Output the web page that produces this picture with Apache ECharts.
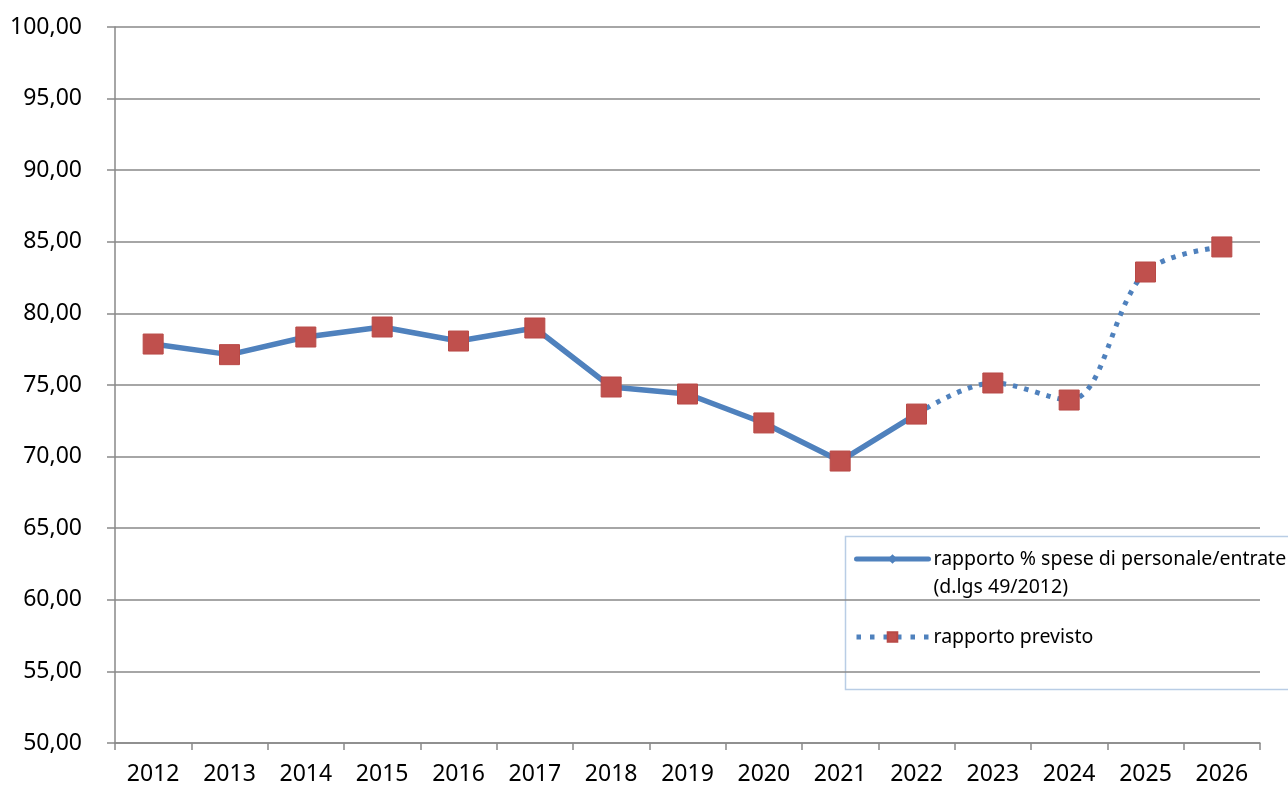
<!DOCTYPE html>
<html>
<head>
<meta charset="utf-8">
<script src="https://cdn.jsdelivr.net/npm/echarts@6/dist/echarts.min.js"></script>
<style>
html,body{margin:0;padding:0;background:#fff;}
#c{width:1288px;height:787px;}
</style>
</head>
<body>
<div id="c"></div>
<script>
const years = ['2012','2013','2014','2015','2016','2017','2018','2019','2020','2021','2022','2023','2024','2025','2026'];
const rapporto = [77.86, 77.12, 78.35, 79.05, 78.07, 78.98, 74.86, 74.37, 72.35, 69.69, 72.97, 75.14, 73.95, 82.89, 84.64];
const lastActualIndex = 10; // 2022
const yTicks = {min: 50, max: 100, interval: 5};
const name1 = 'rapporto % spese di personale/entrate';
const name1b = '(d.lgs 49/2012)';
const name2 = 'rapporto previsto';

const actual = rapporto.map((v, i) => i <= lastActualIndex ? v : null);
const forecast = rapporto.map((v, i) => i >= lastActualIndex ? v : null);
const pastMarkers = rapporto.map((v, i) => i < lastActualIndex ? v : null);

const blue = '#4F81BD', red = '#C0504D', grid = '#898989';
const font = 'Noto Sans';

const chart = echarts.init(document.getElementById('c'));
chart.setOption({
  animation: false,
  backgroundColor: '#fff',
  textStyle: {fontFamily: font},
  grid: {left: 115, right: 28, top: 27, bottom: 44, containLabel: false},
  xAxis: {
    type: 'category', data: years, boundaryGap: true,
    axisLine: {lineStyle: {color: grid, width: 1.5}},
    axisTick: {show: true, length: 7, alignWithLabel: false, lineStyle: {color: grid, width: 1.5}},
    axisLabel: {interval: 0, color: '#000', fontSize: 23, fontFamily: font, margin: 20}
  },
  yAxis: {
    type: 'value', min: yTicks.min, max: yTicks.max, interval: yTicks.interval,
    axisLine: {show: true, lineStyle: {color: grid, width: 1.5}},
    axisTick: {show: true, length: 8, lineStyle: {color: grid, width: 1.5}},
    splitLine: {show: true, lineStyle: {color: grid, width: 1.5}},
    axisLabel: {color: '#000', fontSize: 23, fontFamily: font, margin: 33,
      formatter: v => v.toFixed(2).replace('.', ',')}
  },
  legend: {
    orient: 'vertical', left: 854, top: 517, itemGap: 22, padding: 0,
    itemWidth: 72, itemHeight: 12,
    data: [
      {name: name1, lineStyle: {width: 5, type: 'solid', cap: 'round'}},
      {name: name2, lineStyle: {width: 5, type: [4.5, 9], cap: 'butt'}}
    ],
    formatter: n => n === name1 ? '\n' + name1 + '\n' + name1b : n,
    textStyle: {color: '#000', fontSize: 19.5, lineHeight: 28, fontFamily: font}
  },
  graphic: [{
    type: 'rect', left: 843, top: 534, silent: true,
    shape: {width: 520, height: 153},
    style: {fill: 'none', stroke: '#B9CDE5', lineWidth: 1.5}
  }],
  series: [
    {
      name: name1, type: 'line', data: actual, z: 2,
      symbol: 'diamond', symbolSize: 10, showSymbol: true,
      lineStyle: {color: blue, width: 5.5, cap: 'round'},
      itemStyle: {color: blue},
      connectNulls: false
    },
    {
      name: name2, type: 'line', data: forecast, z: 3, smooth: 0.35,
      symbol: 'rect', symbolSize: 20,
      lineStyle: {color: blue, width: 5, type: [4.5, 7], cap: 'butt'},
      itemStyle: {color: red, borderColor: '#B84946', borderWidth: 1}
    },
    {
      name: 'markers', type: 'line', data: pastMarkers, z: 4,
      symbol: 'rect', symbolSize: 20,
      lineStyle: {width: 0, opacity: 0},
      itemStyle: {color: red, borderColor: '#B84946', borderWidth: 1}
    }
  ]
});
</script>
</body>
</html>
